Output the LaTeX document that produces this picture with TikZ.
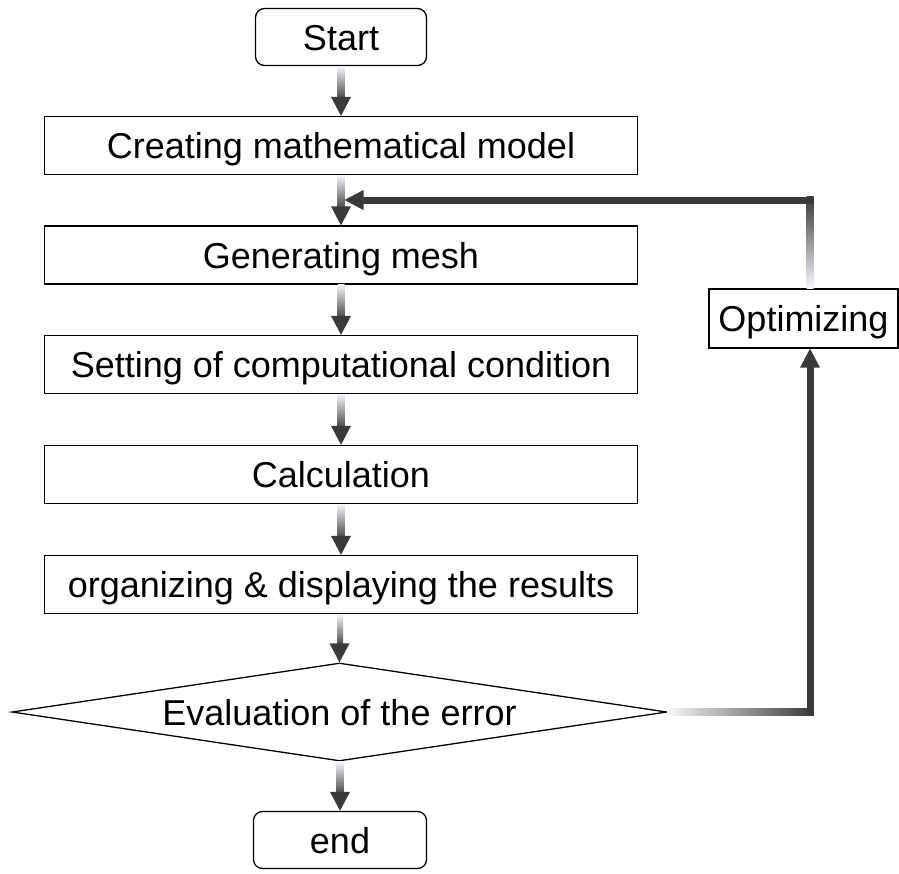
\documentclass[tikz,border=0pt]{standalone}
\usepackage{fontspec}
\setmainfont{Liberation Sans}
\usetikzlibrary{shapes.geometric,calc}
\definecolor{arrlight}{HTML}{F4F6FA}
\definecolor{arrdark}{HTML}{3A3A3A}
\newcommand\gradvarrow[2]{%
  \shade[top color=arrlight, bottom color=arrdark]
    ($(#1.south)+(-3.5pt,0)$) rectangle ($(#2.north)+(3.5pt,15pt)$);
  \fill[arrdark] ($(#2.north)+(-10pt,19pt)$) -- ($(#2.north)+(10pt,19pt)$) -- (#2.north) -- cycle;
}
\begin{document}
\begin{tikzpicture}[x=1pt,y=-1pt,
  font=\fontsize{36}{40}\selectfont,
  box/.style={draw=black, line width=1.3pt, minimum width=593pt, minimum height=58pt,
    inner sep=0pt, fill=white, text height=26pt, text depth=0pt},
  term/.style={box, rounded corners=9pt, minimum width=171pt, minimum height=57pt},
  dec/.style={diamond, draw=black, line width=1.3pt, minimum width=655pt, minimum height=98pt,
    inner sep=0pt, fill=white},
  lbl/.style={inner sep=0pt, text height=26pt, text depth=0pt}]
\useasboundingbox (0,0) rectangle (899,873);

\node[term] (start) at (341,37) {Start};
\node[box] (model) at (341,145.5) {Creating mathematical model};
\node[box] (mesh) at (341,255) {Generating mesh};
\node[box] (cond) at (341,364.5) {Setting of computational condition};
\node[box] (calc) at (341,474.5) {Calculation};
\node[box] (res) at (341,584.5) {organizing \& displaying the results};
\node[dec] (eval) at (339.5,712) {};
\node[lbl] at (eval) {Evaluation of the error};
\node[term, minimum width=173pt] (end) at (340,840) {end};
\node[box, minimum width=189pt, minimum height=59pt] (opt) at (803.5,318.5) {Optimizing};

\gradvarrow{start}{model}
\gradvarrow{model}{mesh}
\gradvarrow{mesh}{cond}
\gradvarrow{cond}{calc}
\gradvarrow{calc}{res}
\gradvarrow{res}{eval}
\gradvarrow{eval}{end}

\coordinate (col) at (810,0);
\coordinate (os) at (opt.south -| col);
\coordinate (on) at (opt.north -| col);

% feedback: evaluation -> optimizing
\coordinate (c1) at (813.5,715.5);
\shade[left color=arrlight, right color=arrdark] ($(eval.east)+(0,3.5pt)$) rectangle (c1);
\fill[arrdark] (806.5,715.5) rectangle ($(os)+(3.5pt,-15pt)$);
\fill[arrdark] ($(os)+(-10pt,-19pt)$) -- ($(os)+(10pt,-19pt)$) -- (os) -- cycle;

% feedback: optimizing -> generating mesh
\coordinate (c2) at (806.5,196.5);
\coordinate (tip) at (344.5,200);
\shade[top color=arrdark, bottom color=arrlight] ($(on)+(3.5pt,0)$) rectangle (c2);
\fill[arrdark] (813.5,196.5) rectangle ($(tip)+(15pt,-3.5pt)$);
\fill[arrdark] ($(tip)+(19pt,10pt)$) -- ($(tip)+(19pt,-10pt)$) -- (tip) -- cycle;
\end{tikzpicture}
\end{document}
